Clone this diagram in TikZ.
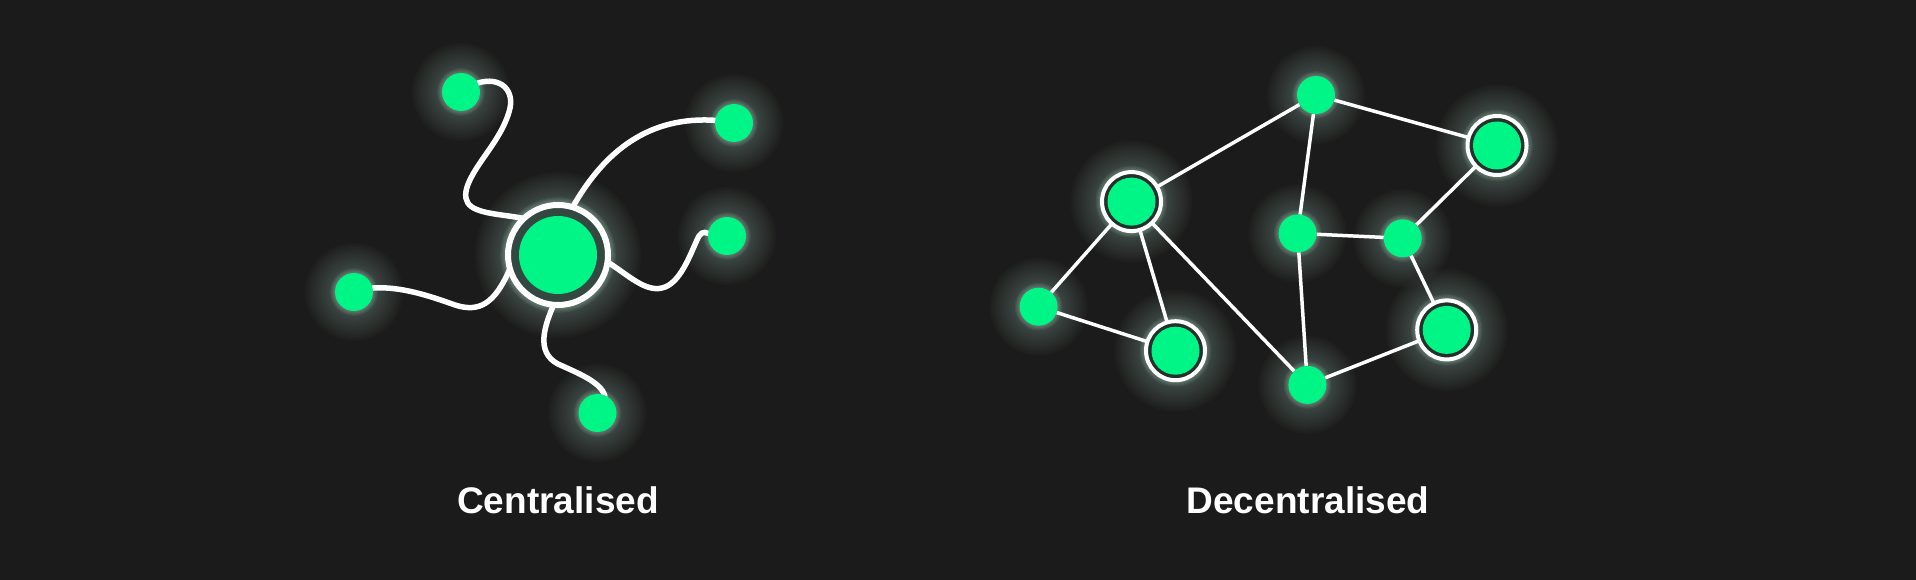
\documentclass[tikz,border=0pt]{standalone}
\usepackage{fontspec}
\setmainfont{Liberation Sans}
\usetikzlibrary{backgrounds}
\definecolor{bgc}{RGB}{27,27,27}
\definecolor{ngreen}{RGB}{0,245,135}
\definecolor{hubgray}{RGB}{52,72,66}
\definecolor{gapc}{RGB}{36,48,44}
\definecolor{glowc}{RGB}{190,235,212}
\begin{document}
\begin{tikzpicture}[x=1pt,y=-1pt,
  smallnode/.style={circle, fill=ngreen, minimum size=38pt, inner sep=0pt, outer sep=0pt},
  ringnode/.style={circle, fill=gapc, draw=white, line width=4pt, minimum size=59pt, inner sep=0pt, outer sep=0pt},
  hubnode/.style={circle, fill=hubgray, draw=white, line width=6pt, minimum size=100pt, inner sep=0pt, outer sep=0pt},
  spoke/.style={draw=white, line width=5.5pt, line cap=round},
  link/.style={draw=white, line width=3.5pt},
  titletext/.style={text=white, font=\bfseries\fontsize{37}{44}\selectfont, anchor=base, inner sep=0pt}]
\useasboundingbox (0,0) rectangle (1916,580);

% Centralised
\node[hubnode] (hub) at (558,255) {};
\fill[ngreen] (hub.center) circle[radius=39pt];
\node[smallnode] (tl) at (461,92) {};
\node[smallnode] (tr) at (734,123) {};
\node[smallnode] (rr) at (727,236) {};
\node[smallnode] (ll) at (354,292) {};
\node[smallnode] (bb) at (597.5,413) {};

% Decentralised
\node[smallnode] (A) at (1316,95) {};
\node[ringnode] (R1) at (1497,145.5) {};
\node[ringnode] (L) at (1131.5,201.6) {};
\node[smallnode] (M1) at (1297.6,233.4) {};
\node[smallnode] (M2) at (1402.7,238.3) {};
\node[smallnode] (S) at (1038.6,306.7) {};
\node[ringnode] (BL) at (1175.5,350.7) {};
\node[smallnode] (B2) at (1307.4,384.9) {};
\node[ringnode] (BR) at (1446.7,329.9) {};
\foreach \n in {R1,L,BL,BR} \fill[ngreen] (\n.center) circle[radius=24pt];

\node[titletext] (t1) at (558,513) {Centralised};
\node[titletext] (t2) at (1308,513) {Decentralised};

\begin{scope}[on background layer]
\fill[bgc] (0,0) rectangle (1916,580);
\foreach \n/\r in {hub/53, tl/19, tr/19, rr/19, ll/19, bb/19, A/19, R1/31, L/31, M1/19, M2/19, S/19, BL/31, B2/19, BR/31} {
  \foreach \k in {1,...,15} {
    \fill[glowc, opacity=0.02] (\n.center) circle[radius={(\r+2*\k)*1pt}];
  }
  \foreach \k in {1,...,4} {
    \fill[glowc, opacity=0.07] (\n.center) circle[radius={(\r+1.2*\k)*1pt}];
  }
}
\draw[spoke] (tl.28) .. controls (500,76) and (516,90) .. (509,112) .. controls (503,132) and (490,148) .. (480,163) .. controls (465,185) and (458,203) .. (478,210) .. controls (488,214) and (505,215) .. (hub.133);
\draw[spoke] (hub.73) .. controls (605,150) and (650,116) .. (tr.172);
\draw[spoke] (hub.-8) .. controls (628,275) and (645,292) .. (662,288) .. controls (680,284) and (690,255) .. (697,240) .. controls (700,233) and (703,231) .. (rr.172);
\draw[spoke] (ll.12) .. controls (400,286) and (430,296) .. (455,305) .. controls (480,313) and (495,303) .. (hub.196);
\draw[spoke] (hub.-95) .. controls (545,325) and (535,352) .. (558,364) .. controls (580,374) and (600,382) .. (bb.67);

\draw[link] (A) -- (R1);
\draw[link] (A) -- (L);
\draw[link] (A) -- (M1);
\draw[link] (L) -- (S);
\draw[link] (L) -- (BL);
\draw[link] (L) -- (B2);
\draw[link] (S) -- (BL);
\draw[link] (M1) -- (M2);
\draw[link] (M1) -- (B2);
\draw[link] (M2) -- (R1);
\draw[link] (M2) -- (BR);
\draw[link] (BR) -- (B2);
\end{scope}
\end{tikzpicture}
\end{document}
